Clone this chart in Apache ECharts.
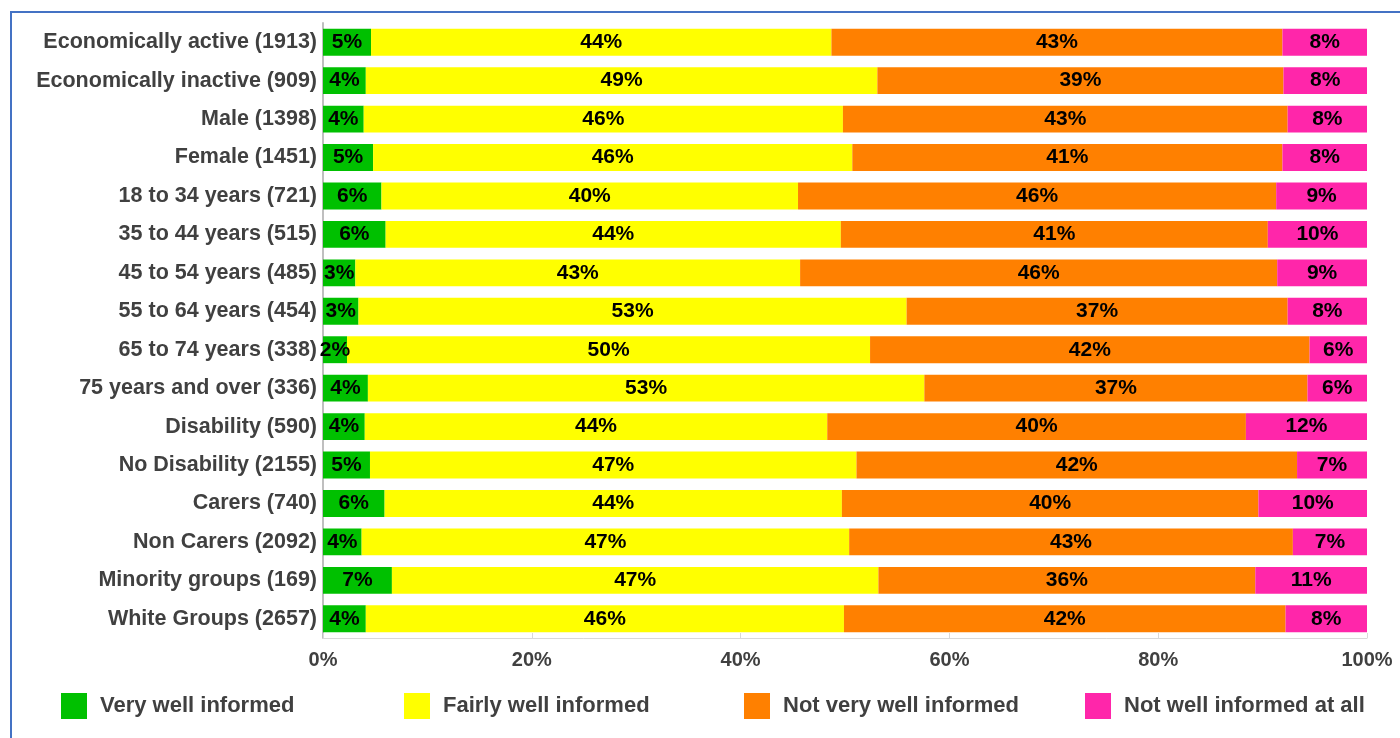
<!DOCTYPE html>
<html>
<head>
<meta charset="utf-8">
<script src="https://cdn.jsdelivr.net/npm/echarts@6/dist/echarts.min.js"></script>
<style>
html,body{margin:0;padding:0;background:#fff;}
#chart{width:1400px;height:738px;}
</style>
</head>
<body>
<div id="chart"></div>
<script>
const categories = [
  'Economically active (1913)',
  'Economically inactive (909)',
  'Male (1398)',
  'Female (1451)',
  '18 to 34 years (721)',
  '35 to 44 years (515)',
  '45 to 54 years (485)',
  '55 to 64 years (454)',
  '65 to 74 years (338)',
  '75 years and over (336)',
  'Disability (590)',
  'No Disability (2155)',
  'Carers (740)',
  'Non Carers (2092)',
  'Minority groups (169)',
  'White Groups (2657)'
];
const seriesNames = ['Very well informed', 'Fairly well informed', 'Not very well informed', 'Not well informed at all'];
const veryWell    = [4.6, 4.1, 3.9, 4.8, 5.6, 6.0, 3.1, 3.4, 2.3, 4.3, 4.0, 4.5, 5.9, 3.7, 6.6, 4.1];
const fairlyWell  = [44.1, 49.0, 45.9, 45.9, 39.9, 43.6, 42.6, 52.5, 50.1, 53.3, 44.3, 46.6, 43.8, 46.7, 46.6, 45.8];
const notVeryWell = [43.2, 38.9, 42.6, 41.2, 45.8, 40.9, 45.7, 36.5, 42.1, 36.7, 40.1, 42.2, 39.9, 42.5, 36.1, 42.3];
const notAtAll    = [8.1, 8.0, 7.6, 8.1, 8.7, 9.5, 8.6, 7.6, 5.5, 5.7, 11.6, 6.7, 10.4, 7.1, 10.7, 7.8];
const xTicks = [0, 20, 40, 60, 80, 100];

const colors = ['#00C000', '#FFFF00', '#FF8000', '#FF26AA'];
const allData = [veryWell, fairlyWell, notVeryWell, notAtAll];
const font = 'Liberation Sans, Arial, sans-serif';

const chart = echarts.init(document.getElementById('chart'));
const legendLefts = [61, 404, 744, 1085];

const option = {
  animation: false,
  backgroundColor: '#fff',
  textStyle: { fontFamily: font },
  graphic: [{
    type: 'rect', silent: true, z: 100,
    shape: { x: 11, y: 12, width: 1400, height: 740 },
    style: { fill: 'none', stroke: '#4472C4', lineWidth: 2 }
  }],
  grid: { left: 323, right: 33, top: 23, bottom: 100, containLabel: false },
  legend: seriesNames.map((n, i) => ({
    data: [n],
    left: legendLefts[i],
    top: 693,
    padding: 0,
    itemWidth: 26,
    itemHeight: 26,
    icon: 'rect',
    selectedMode: false,
    textStyle: { fontSize: 22, fontWeight: 'bold', color: '#404040', fontFamily: font, padding: [4, 0, 0, 8] }
  })),
  xAxis: {
    type: 'value',
    min: xTicks[0], max: xTicks[xTicks.length - 1], interval: 20,
    axisLine: { show: true, lineStyle: { color: '#D9D9D9', width: 1 } },
    axisTick: { show: true, length: 5, inside: true, lineStyle: { color: '#D9D9D9' } },
    splitLine: { show: false },
    axisLabel: { formatter: '{value}%', fontSize: 20, fontWeight: 'bold', color: '#404040', margin: 12, fontFamily: font }
  },
  yAxis: {
    type: 'category',
    data: categories,
    inverse: true,
    axisLine: { show: true, lineStyle: { color: '#BFBFBF', width: 2 } },
    axisTick: { show: false },
    axisLabel: { fontSize: 21.5, fontWeight: 'bold', color: '#404040', margin: 6, fontFamily: font, padding: [6, 0, 0, 0] }
  },
  series: seriesNames.map((n, i) => ({
    name: n,
    type: 'bar',
    stack: 'total',
    barCategoryGap: '30%',
    data: allData[i],
    itemStyle: { color: colors[i] },
    label: {
      show: true,
      position: 'inside',
      formatter: p => Math.round(p.value) + '%',
      fontSize: 21,
      fontWeight: 'bold',
      color: '#000',
      fontFamily: font,
      padding: [5, 0, 0, 0]
    }
  }))
};
chart.setOption(option);
</script>
</body>
</html>
